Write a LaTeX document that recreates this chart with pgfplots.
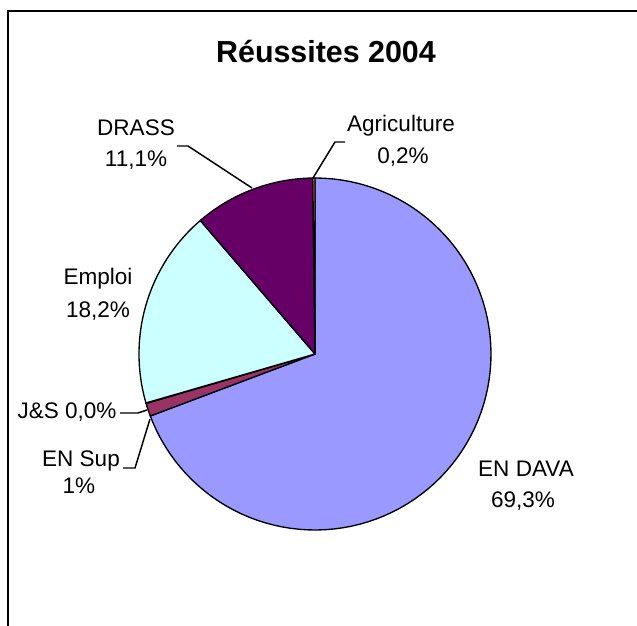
\documentclass[border=0pt]{standalone}
\usepackage{fontspec}
\setmainfont{Liberation Sans}
\usepackage{pgfplots}
\usepackage{pgfplotstable}
\pgfplotsset{compat=1.18}

\definecolor{cDava}{HTML}{9999FF}
\definecolor{cSup}{HTML}{993366}
\definecolor{cJS}{HTML}{993366}
\definecolor{cEmploi}{HTML}{CCFFFF}
\definecolor{cDrass}{HTML}{660066}
\definecolor{cAgri}{HTML}{FF8080}

% shares in percent, clockwise from 12 o'clock
\pgfplotstableread{
value color
69.3 cDava
1.2 cSup
0.04 cJS
18.2 cEmploi
11.1 cDrass
0.2 cAgri
}\pietable

\newcommand\lbl[3]{\node[anchor=base, font=\fontsize{16.9}{19}\selectfont] at (axis cs:#1,#2) {#3};}

\begin{document}
\begin{tikzpicture}
\pgfplotstablegetrowsof{\pietable}
\pgfmathtruncatemacro\nrows{\pgfplotsretval-1}
\def\total{0}
\pgfplotsforeachungrouped \i in {0,...,\nrows}{%
  \pgfplotstablegetelem{\i}{value}\of\pietable
  \pgfmathsetmacro\total{\total+\pgfplotsretval}}
\begin{axis}[
    scale only axis,
    width=477.75pt, height=469.5pt,
    xmin=0, xmax=637, ymin=0, ymax=626,
    hide axis, clip=false, no markers,
]
\def\cum{0}
\pgfplotsforeachungrouped \i in {0,...,\nrows}{%
  \pgfplotstablegetelem{\i}{value}\of\pietable \let\val\pgfplotsretval
  \pgfplotstablegetelem{\i}{color}\of\pietable \let\slicecol\pgfplotsretval
  \pgfmathsetmacro\angA{90-\cum/\total*360}
  \pgfmathsetmacro\cum{\cum+\val}
  \pgfmathsetmacro\angB{90-\cum/\total*360}
  \edef\doslice{\noexpand\addplot[draw=black, line width=1pt, line join=round,
      fill=\slicecol, samples=90, domain=\angB:\angA]
      ({315+176*cos(x)},{272+176*sin(x)}) -- (axis cs:315,272) -- cycle;}
  \doslice
}

% frame
\draw[line width=1.5pt] (axis cs:8,0) -- (axis cs:8,615) -- (axis cs:640,615);

% title
\node[anchor=base, font=\fontsize{22.8}{26}\selectfont\bfseries] at (axis cs:326,563) {Réussites 2004};

% leader lines
\draw[line width=1.1pt] (axis cs:345,484) -- (axis cs:335,484) -- (axis cs:313,448);
\draw[line width=1.1pt] (axis cs:177,480) -- (axis cs:188,480) -- (axis cs:252,438);
\draw[line width=1.1pt] (axis cs:120,213) -- (axis cs:138,213) -- (axis cs:147,216);
\draw[line width=1.1pt] (axis cs:123,158) -- (axis cs:135,158) -- (axis cs:150,207);

% labels
\lbl{401}{494}{Agriculture}
\lbl{403}{462}{0,2\%}
\lbl{136}{490}{DRASS}
\lbl{136}{459}{11,1\%}
\lbl{98}{341}{Emploi}
\lbl{98}{308}{18,2\%}
\lbl{67}{207}{J\&S 0,0\%}
\lbl{81}{159}{EN Sup}
\lbl{79}{132}{1\%}
\lbl{526}{149}{EN DAVA}
\lbl{523}{118}{69,3\%}
\end{axis}
\pgfresetboundingbox
\path (0,0) rectangle (477.75pt,469.5pt);
\end{tikzpicture}
\end{document}
